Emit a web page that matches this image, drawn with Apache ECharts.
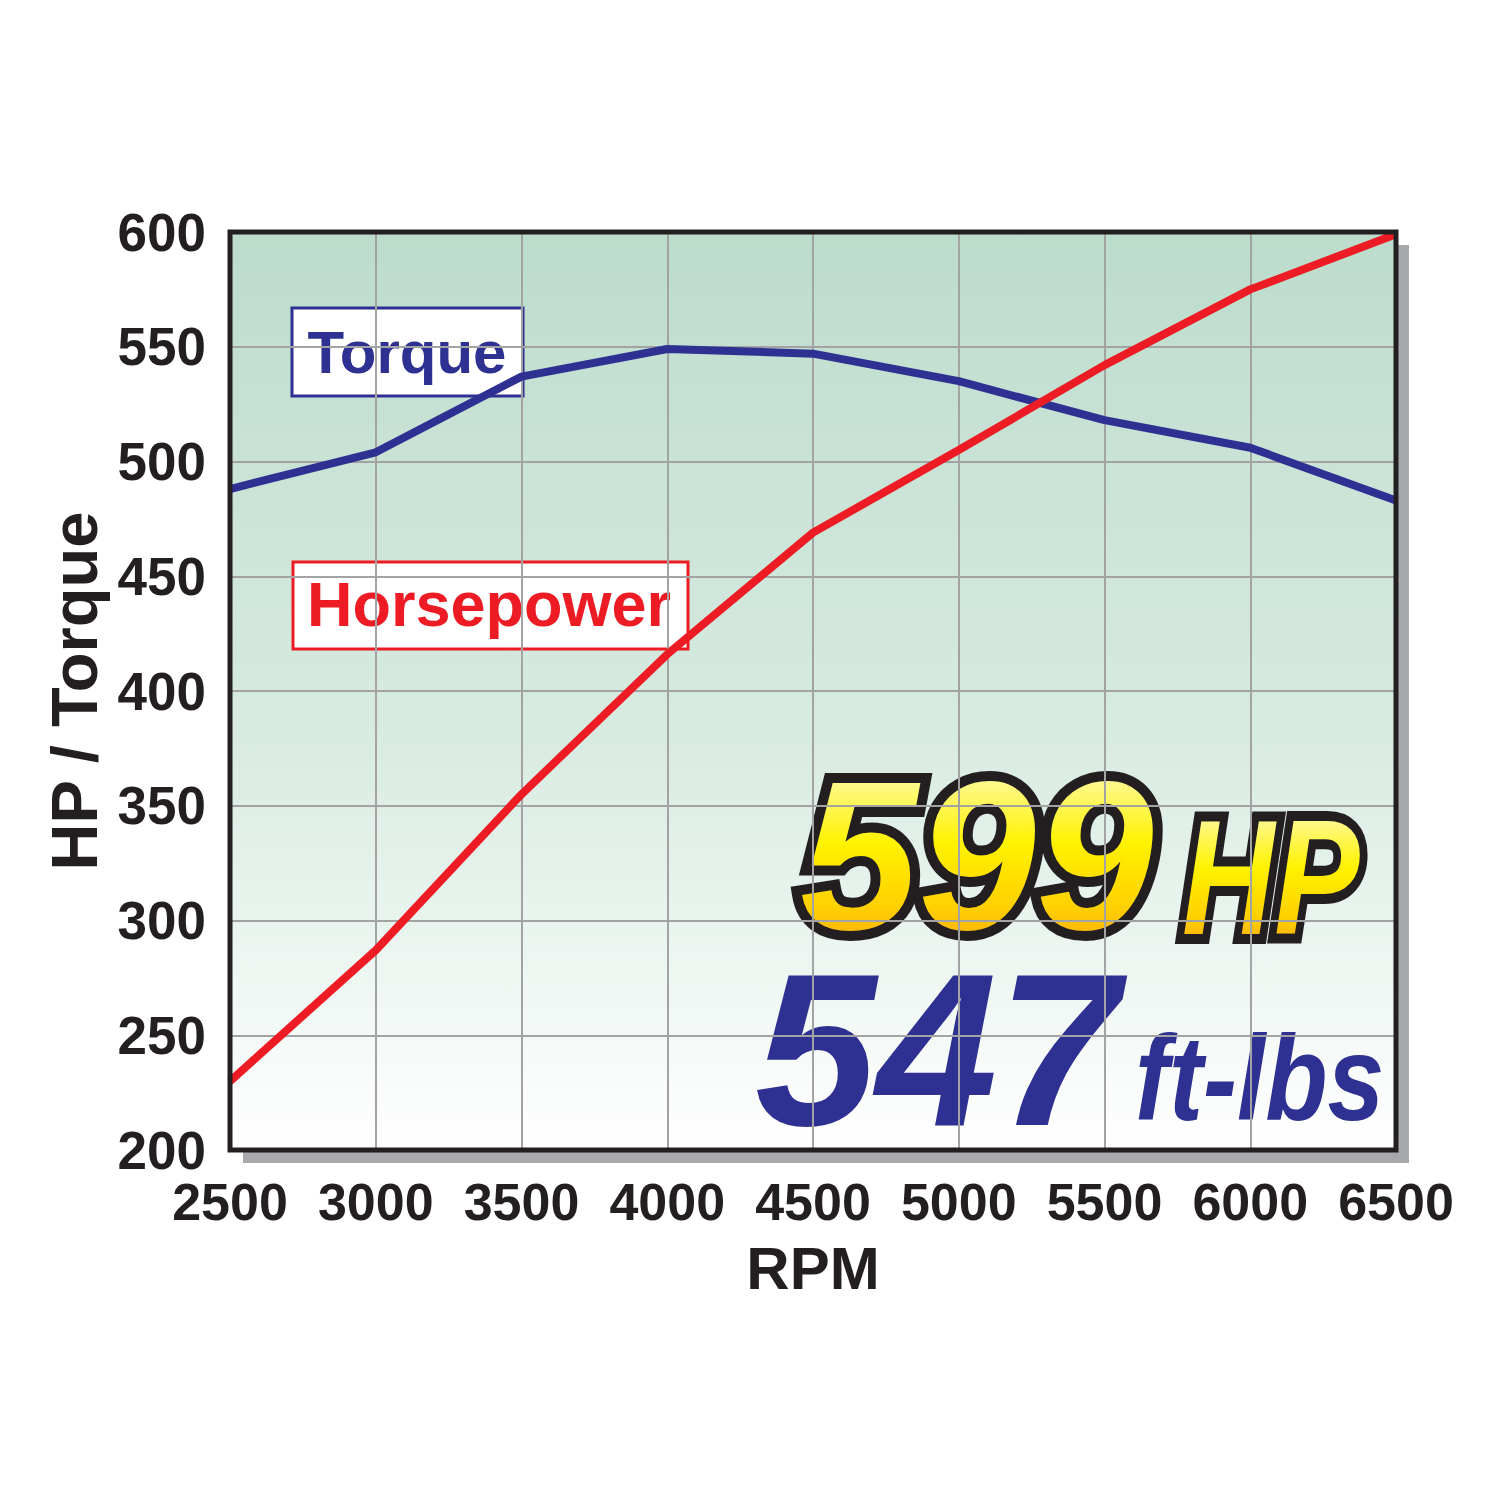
<!DOCTYPE html>
<html>
<head>
<meta charset="utf-8">
<title>HP / Torque</title>
<script src="https://cdn.jsdelivr.net/npm/echarts@6/dist/echarts.min.js"></script>
<style>
	html, body { margin: 0; padding: 0; background: #fff; }
	#chart { width: 1500px; height: 1500px; }
	/* 599 HP 的渐变填充 (svg 渲染器, 颜色作标记) */
	#chart text[fill="#fef001"],
	#chart text[fill="#FEF001"],
	#chart text[fill="rgb(254,240,1)"] {
		fill: url(#hpGrad);
		paint-order: stroke;
	}
</style>
</head>
<body>
<svg width="0" height="0" style="position:absolute">
	<defs>
		<linearGradient id="hpGrad" x1="0" y1="0" x2="0" y2="1">
			<stop offset="0" stop-color="#fffef2"/>
			<stop offset="0.45" stop-color="#fff200"/>
			<stop offset="0.72" stop-color="#ffd000"/>
			<stop offset="1" stop-color="#f7941d"/>
		</linearGradient>
	</defs>
</svg>
<div id="chart"></div>
<script>
// 数据
var rpm = [2500, 3000, 3500, 4000, 4500, 5000, 5500, 6000, 6500];
var horsepower = [230, 287, 355, 416, 469, 505, 542, 575, 599];
var torque = [488, 504, 537, 549, 547, 535, 518, 506, 483];
var peakHp = '599';
var peakTorque = '547';

var BLUE = '#2e3192';
var RED = '#ed1c24';
var INK = '#231f20';
var YELLOW = '#fef001';

// 绘图区
var G = { left: 230, top: 232, right: 104, bottom: 350 };

function pairs(ys) {
	var out = [];
	for (var i = 0; i < rpm.length; i++) {
		out.push([rpm[i], ys[i]]);
	}
	return out;
}

var chart = echarts.init(document.getElementById('chart'), null, { renderer: 'svg' });

var option = {
	animation: false,
	grid: {
		left: G.left,
		top: G.top,
		right: G.right,
		bottom: G.bottom,
		show: true,
		backgroundColor: new echarts.graphic.LinearGradient(0, 0, 0, 1, [
			{ offset: 0, color: '#bcdccc' },
			{ offset: 0.55, color: '#d8ebe1' },
			{ offset: 1, color: '#ffffff' }
		]),
		borderWidth: 0,
		shadowColor: '#a7a9ac',
		shadowOffsetX: 13,
		shadowOffsetY: 13,
		shadowBlur: 0
	},
	xAxis: {
		type: 'value',
		min: 2500,
		max: 6500,
		interval: 500,
		name: 'RPM',
		nameLocation: 'middle',
		nameGap: 88,
		nameTextStyle: {
			fontFamily: 'Liberation Sans',
			fontWeight: 'bold',
			fontSize: 60,
			color: INK
		},
		axisLine: { show: false },
		axisTick: { show: false },
		axisLabel: {
			margin: 26,
			fontFamily: 'Liberation Sans',
			fontWeight: 'bold',
			fontSize: 52,
			color: INK,
			formatter: function (v) { return String(v); }
		},
		splitLine: { lineStyle: { color: '#a3a3a3', width: 2 } }
	},
	yAxis: {
		type: 'value',
		min: 200,
		max: 600,
		interval: 50,
		name: 'HP / Torque',
		nameLocation: 'middle',
		nameGap: 123,
		nameMoveOverlap: false,
		nameRotate: 90,
		nameTextStyle: {
			fontFamily: 'Liberation Sans',
			fontWeight: 'bold',
			fontSize: 65,
			color: INK
		},
		axisLine: { show: false },
		axisTick: { show: false },
		axisLabel: {
			margin: 24,
			fontFamily: 'Liberation Sans',
			fontWeight: 'bold',
			fontSize: 53,
			color: INK,
			formatter: function (v) { return String(v); }
		},
		splitLine: { lineStyle: { color: '#a3a3a3', width: 2 } }
	},
	series: [
		{
			name: 'Torque',
			type: 'line',
			data: pairs(torque),
			symbol: 'none',
			lineStyle: { color: BLUE, width: 8 },
			z: 3
		},
		{
			name: 'Horsepower',
			type: 'line',
			data: pairs(horsepower),
			symbol: 'none',
			lineStyle: { color: RED, width: 8 },
			z: 4
		}
	],
	graphic: [
		// 边框
		{
			type: 'rect',
			z: 50,
			silent: true,
			shape: { x: G.left, y: G.top, width: 1500 - G.left - G.right, height: 1500 - G.top - G.bottom },
			style: { fill: 'none', stroke: INK, lineWidth: 5 }
		},
		// 图例框
		{
			type: 'group',
			z: 100,
			children: [
				{
					type: 'rect',
					shape: { x: 292, y: 308, width: 231, height: 88 },
					style: { fill: '#fff', stroke: BLUE, lineWidth: 3 }
				},
				{
					type: 'text',
					x: 407, y: 352,
					style: {
						text: 'Torque',
						fill: BLUE,
						font: 'bold 60px "Liberation Sans"',
						textAlign: 'center',
						textVerticalAlign: 'middle'
					}
				},
				{
					type: 'rect',
					shape: { x: 293, y: 562, width: 395, height: 87 },
					style: { fill: '#fff', stroke: RED, lineWidth: 3 }
				},
				{
					type: 'text',
					x: 489, y: 604,
					style: {
						text: 'Horsepower',
						fill: RED,
						font: 'bold 63px "Liberation Sans"',
						textAlign: 'center',
						textVerticalAlign: 'middle'
					}
				}
			]
		},
		// 峰值
		{
			type: 'group',
			z: 100,
			children: [
				{
					type: 'text',
					x: 800, y: 855,
					style: {
						text: peakHp,
						font: 'italic bold 212px "Liberation Sans"',
						lineHeight: 160,
						fill: YELLOW,
						stroke: INK,
						lineWidth: 20,
						textAlign: 'left',
						textVerticalAlign: 'middle'
					}
				},
				{
					type: 'text',
					x: 1182, y: 877,
					scaleX: 0.78,
					style: {
						text: 'HP',
						font: 'italic bold 164px "Liberation Sans"',
						lineHeight: 125,
						fill: YELLOW,
						stroke: INK,
						lineWidth: 20,
						textAlign: 'left',
						textVerticalAlign: 'middle'
					}
				},
				{
					type: 'text',
					x: 755, y: 1049,
					style: {
						text: peakTorque,
						font: 'italic bold 218px "Liberation Sans"',
						lineHeight: 160,
						fill: BLUE,
						textAlign: 'left',
						textVerticalAlign: 'middle'
					}
				},
				{
					type: 'text',
					x: 1135, y: 1079,
					scaleX: 0.85,
					style: {
						text: 'ft-lbs',
						font: 'italic bold 120px "Liberation Sans"',
						lineHeight: 90,
						fill: BLUE,
						textAlign: 'left',
						textVerticalAlign: 'middle'
					}
				}
			]
		}
	]
};

chart.setOption(option);
</script>
</body>
</html>
